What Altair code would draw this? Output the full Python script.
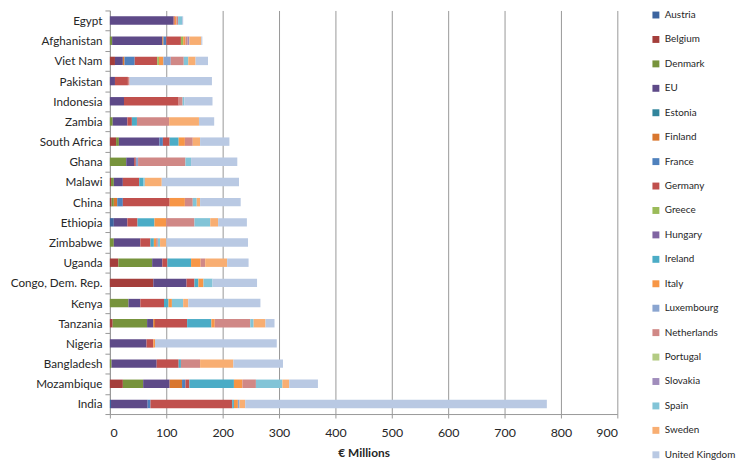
import altair as alt
import pandas as pd

donors = ["Austria", "Belgium", "Denmark", "EU", "Estonia", "Finland", "France",
          "Germany", "Greece", "Hungary", "Ireland", "Italy", "Luxembourg",
          "Netherlands", "Portugal", "Slovakia", "Spain", "Sweden", "United Kingdom"]

colors = ["#3C649F", "#A43E3B", "#77933C", "#5E4A88", "#31859C", "#D9772F", "#4F81BD",
          "#C0504D", "#9BBB59", "#8064A2", "#4BACC6", "#F79646", "#8AA5D0",
          "#D08886", "#B3CB83", "#A08DBC", "#82C4D7", "#F8AE72", "#B9C9E3"]

countries = ["Egypt", "Afghanistan", "Viet Nam", "Pakistan", "Indonesia", "Zambia",
             "South Africa", "Ghana", "Malawi", "China", "Ethiopia", "Zimbabwe", "Uganda",
             "Congo, Dem. Rep.", "Kenya", "Tanzania", "Nigeria", "Bangladesh",
             "Mozambique", "India"]

# values per country, in donor order (€ millions)
egypt       = [0, 0, 0, 113, 0, 0, 0, 2, 0, 0, 0, 3, 0, 3, 0, 0, 7, 0, 2]
afghanistan = [0, 0, 4, 89, 0, 2, 5, 26, 4, 0, 0, 4, 0, 4, 0, 3, 0, 21, 2]
viet_nam    = [0, 9, 0, 14, 0, 3, 18, 40, 3, 0, 0, 8, 13, 23, 0, 0, 8, 13, 22]
pakistan    = [0, 0, 0, 9, 0, 0, 0, 23, 0, 0, 0, 0, 0, 3, 0, 0, 0, 0, 146]
indonesia   = [0, 0, 0, 25, 0, 0, 0, 97, 0, 0, 0, 0, 0, 7, 0, 0, 3, 0, 50]
zambia      = [0, 0, 5, 26, 0, 0, 0, 8, 0, 0, 9, 0, 0, 57, 0, 0, 0, 53, 27]
south_africa = [0, 11, 5, 72, 0, 0, 6, 12, 0, 0, 16, 11, 0, 14, 0, 0, 0, 13, 52]
ghana       = [0, 0, 29, 14, 0, 0, 0, 3, 0, 0, 0, 0, 4, 84, 0, 0, 10, 0, 82]
malawi      = [0, 2, 5, 16, 0, 0, 0, 29, 0, 0, 7, 0, 0, 0, 0, 0, 3, 30, 137]
china       = [0, 3, 4, 0, 0, 6, 10, 83, 0, 0, 0, 27, 0, 14, 0, 0, 7, 6, 72]
ethiopia    = [7, 0, 0, 24, 0, 0, 0, 18, 0, 0, 30, 21, 0, 50, 0, 0, 28, 14, 51]
zimbabwe    = [0, 0, 7, 47, 0, 0, 0, 18, 0, 0, 6, 4, 0, 3, 0, 0, 4, 11, 145]
uganda      = [0, 15, 60, 18, 0, 0, 0, 9, 0, 0, 42, 17, 0, 8, 0, 0, 0, 39, 38]
congo       = [0, 77, 0, 59, 0, 0, 0, 14, 0, 0, 7, 9, 0, 0, 0, 0, 16, 0, 79]
kenya       = [0, 0, 33, 21, 0, 0, 0, 42, 0, 0, 8, 6, 0, 0, 0, 0, 20, 9, 128]
tanzania    = [0, 5, 61, 11, 0, 3, 0, 57, 0, 0, 43, 6, 0, 63, 0, 0, 6, 21, 16]
nigeria     = [0, 0, 0, 65, 0, 0, 0, 12, 0, 0, 0, 3, 0, 0, 0, 0, 0, 0, 216]
bangladesh  = [0, 0, 3, 80, 0, 0, 0, 39, 0, 0, 4, 0, 0, 34, 0, 0, 0, 59, 88]
mozambique  = [0, 23, 36, 47, 0, 22, 6, 7, 0, 0, 79, 15, 0, 24, 0, 0, 47, 12, 51]
india       = [2, 0, 0, 65, 0, 0, 5, 145, 0, 0, 3, 7, 3, 0, 0, 0, 0, 10, 535]

x_ticks = [0, 100, 200, 300, 400, 500, 600, 700, 800, 900]

series = [egypt, afghanistan, viet_nam, pakistan, indonesia, zambia, south_africa,
          ghana, malawi, china, ethiopia, zimbabwe, uganda, congo, kenya, tanzania,
          nigeria, bangladesh, mozambique, india]

rows = []
for c, vals in zip(countries, series):
    for i, (d, v) in enumerate(zip(donors, vals)):
        if v > 0:
            rows.append({"country": c, "donor": d, "value": v, "k": i})
df = pd.DataFrame(rows)

FONT = "Lato"
GRID = "#989898"

chart = alt.Chart(df).mark_bar(size=8.5).encode(
    x=alt.X("value:Q", stack="zero",
            scale=alt.Scale(domain=[0, 900], nice=False),
            axis=alt.Axis(values=x_ticks, title="€ Millions", grid=True,
                          gridColor=GRID, gridWidth=1, domainColor=GRID,
                          tickColor=GRID, tickSize=4, labelPadding=9,
                          labelFont=FONT, labelFontSize=12.5, labelColor="#262626",
                          titleFont=FONT, titleFontSize=12, titleFontWeight="bold",
                          titleColor="#262626", titlePadding=8)),
    y=alt.Y("country:N", sort=countries,
            scale=alt.Scale(paddingInner=0, paddingOuter=0),
            axis=alt.Axis(title=None, tickBand="extent", domainColor=GRID,
                          tickColor=GRID, tickSize=5, labelPadding=3,
                          labelFont=FONT, labelFontSize=11.8, labelColor="#262626")),
    color=alt.Color("donor:N", scale=alt.Scale(domain=donors, range=colors),
                    legend=alt.Legend(orient="none", legendX=547, legendY=-0.4,
                                      title=None, symbolType="square", symbolSize=49,
                                      symbolStrokeWidth=0, labelFont=FONT,
                                      labelFontSize=10, labelColor="#262626",
                                      labelOffset=4, rowPadding=14.7, padding=0)),
    order=alt.Order("k:Q", sort="ascending"),
).properties(
    width=513, height=408,
    autosize=alt.AutoSizeParams(type="none"),
    padding={"left": 103, "top": 0, "right": 122, "bottom": 47},
).configure_view(stroke=None)

chart.save("out.html", embed_options={"renderer": "svg", "actions": False})
